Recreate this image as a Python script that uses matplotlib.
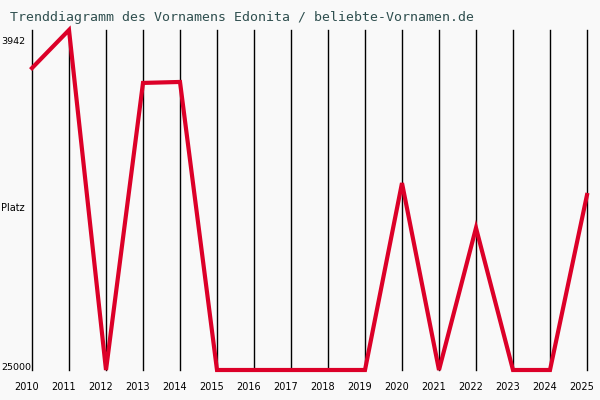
import matplotlib
matplotlib.use("Agg")
import matplotlib.pyplot as plt
from matplotlib.transforms import offset_copy

years = list(range(2010, 2026))
ranks = [6300, 3942, 25000, 7220, 7160, 25000, 25000, 25000, 25000, 25000,
         13420, 25000, 16200, 25000, 25000, 14160]
title = "Trenddiagramm des Vornamens Edonita / beliebte-Vornamen.de"
y_top, y_bottom = 3942, 25000

bg = "#f9f9f9"
fig = plt.figure(figsize=(6, 4), dpi=100, facecolor=bg)
ax = fig.add_axes([32/600, 30/400, 555/600, 340/400])
ax.set_facecolor(bg)
ax.set_xlim(years[0], years[-1])
ax.set_ylim(y_bottom, y_top)
for s in ax.spines.values():
    s.set_visible(False)
ax.set_xticks([]); ax.set_yticks([])

for y in years:
    ax.axvline(y, color="black", lw=1.0, clip_on=False)

ax.plot(years, ranks, color="#dc0028", lw=3.0, clip_on=False,
        solid_joinstyle="miter", zorder=3)

fig.text(10/600, 1 - 18/400, title, family="DejaVu Sans Mono", fontsize=9.5,
         color="#2f4f4f", va="center", ha="left")

fig.text(1/600, 1 - 42/400, str(y_top), ha="left", va="center", fontsize=6.8, family="DejaVu Sans")
fig.text(1/600, 1 - 367/400, str(y_bottom), ha="left", va="center", fontsize=6.8, family="DejaVu Sans")
fig.text(1/600, 1 - 208/400, "Platz", ha="left", va="center", fontsize=7, family="DejaVu Sans")

lab_tr = offset_copy(ax.transData, fig=fig, x=-5, y=-17, units="dots")
for y in years:
    ax.text(y, y_bottom, str(y), transform=lab_tr, ha="center", va="center",
            fontsize=7, family="DejaVu Sans")

fig.savefig("out.png", dpi=100, facecolor=bg)
